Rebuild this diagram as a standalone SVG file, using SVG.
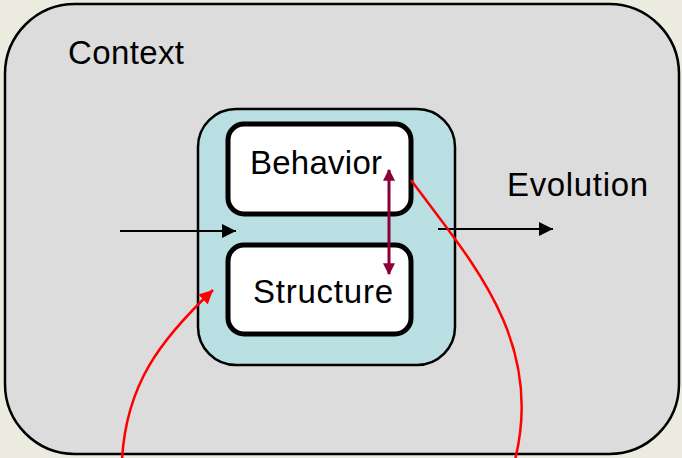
<svg xmlns="http://www.w3.org/2000/svg" width="682" height="458" viewBox="0 0 682 458">
<defs>
<style>
.lbl{font-family:"Liberation Sans",Arial,sans-serif;font-size:33px;fill:#000}
.box{fill:#fff;stroke:#000;stroke-width:5}
.red{fill:none;stroke:#ff0000;stroke-width:2.5}
.blk{fill:none;stroke:#000;stroke-width:2}
</style>
<marker id="ab" viewBox="0 0 10 10" refX="10" refY="5" markerWidth="16" markerHeight="14" markerUnits="userSpaceOnUse" orient="auto"><path d="M0,0 L10,5 L0,10 z" fill="#000"/></marker>
<marker id="ar" viewBox="0 0 10 10" refX="10" refY="5" markerWidth="5.5" markerHeight="5.5" orient="auto"><path d="M0,0 L10,5 L0,10 z" fill="#ff0000"/></marker>
<marker id="am" viewBox="0 0 10 10" refX="9" refY="5" markerWidth="4" markerHeight="4" orient="auto-start-reverse"><path d="M0,0 L10,5 L0,10 z" fill="#8b0038"/></marker>
</defs>
<rect x="0" y="0" width="682" height="458" fill="#ebebe0"/>
<g id="context">
<rect x="5" y="4" width="674" height="450" rx="70" ry="70" fill="#dcdcdc" stroke="#000" stroke-width="2.5"/>
<text class="lbl" x="68" y="64" textLength="116">Context</text>
</g>
<g id="system">
<rect x="198" y="109" width="257" height="256" rx="38" ry="38" fill="#b9dfe3" stroke="#000" stroke-width="2.5"/>
</g>
<g id="behavior">
<rect class="box" x="228" y="124" width="183" height="90" rx="16" ry="16"/>
<text class="lbl" x="250" y="174" textLength="132">Behavior</text>
</g>
<g id="structure">
<rect class="box" x="228" y="245" width="183" height="89" rx="16" ry="16"/>
<text class="lbl" x="253" y="303" textLength="140">Structure</text>
</g>
<g id="evolution">
<text class="lbl" x="507" y="196" textLength="141">Evolution</text>
</g>
<g id="connectors">
<line class="blk" x1="120" y1="231" x2="236" y2="231" marker-end="url(#ab)"/>
<line class="blk" x1="438" y1="229" x2="553" y2="229" marker-end="url(#ab)"/>
<line x1="389" y1="170" x2="389" y2="274" stroke="#8b0038" stroke-width="3" marker-start="url(#am)" marker-end="url(#am)"/>
<path class="red" d="M122,460 C126,385 160,340 213,290" marker-end="url(#ar)"/>
<path class="red" d="M411,180 C470,260 545,340 515,460"/>
</g>
</svg>
